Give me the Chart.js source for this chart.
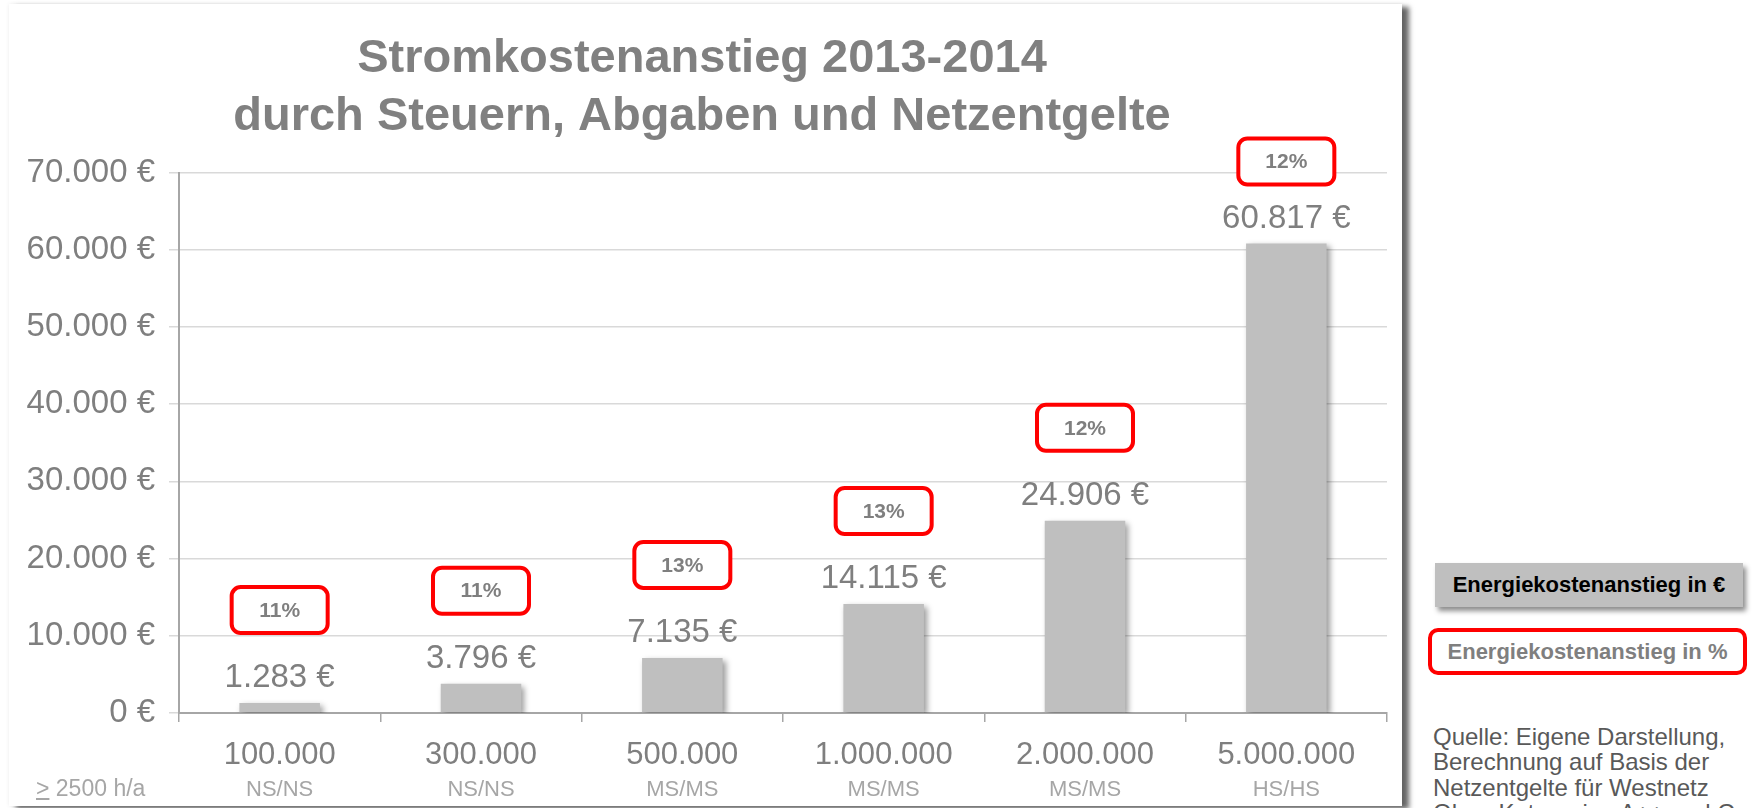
<!DOCTYPE html>
<html lang="de">
<head>
<meta charset="utf-8" />
<script src="https://cdn.jsdelivr.net/npm/chart.js@4.4.1/dist/chart.umd.min.js"></script>
<style>
  body { margin: 0; background: #fff; font-family: "Liberation Sans", Arial, sans-serif; overflow: hidden; }
  #card { position: absolute; left: 9px; top: 4px; width: 1393px; height: 802px; background: #fff;
          box-shadow: 7px 3px 5px rgba(0,0,0,0.6), 0 0 4px rgba(0,0,0,0.08); }
  #hours { position: absolute; left: 27px; top: 771px; font-size: 23px; color: #a6a6a6; }
  .leg { position: absolute; box-sizing: border-box; text-align: center; font-weight: bold; font-size: 22px; }
  #legEuro { left: 1435px; top: 563px; width: 308px; height: 44px; line-height: 44px; background: #bfbfbf; color: #000;
             box-shadow: 3px 4px 5px rgba(0,0,0,0.45); }
  #legPct { left: 1428px; top: 628px; width: 319px; height: 47px; line-height: 39px; border: 4px solid #ff0000;
            border-radius: 10px; color: #7f7f7f; background: #fff; }
  #quelle { position: absolute; left: 1433px; top: 724px; font-size: 24px; line-height: 25.3px; color: #595959; white-space: nowrap; }
</style>
<title>Stromkostenanstieg 2013-2014</title>
</head>
<body>
<div id="card">
  <canvas id="chart" width="1393" height="802"></canvas>
  <div id="hours"><span style="text-decoration: underline">&gt;</span> 2500 h/a</div>
</div>
<div class="leg" id="legEuro">Energiekostenanstieg in €</div>
<div class="leg" id="legPct">Energiekostenanstieg in %</div>
<div id="quelle">Quelle: Eigene Darstellung,<br>Berechnung auf Basis der<br>Netzentgelte für Westnetz<br>Ohne Kategorien A++ und C</div>
<script>
// Jahresverbrauch in kWh und Spannungsebene
const verbrauch = ["100.000", "300.000", "500.000", "1.000.000", "2.000.000", "5.000.000"];
const ebene = ["NS/NS", "NS/NS", "MS/MS", "MS/MS", "MS/MS", "HS/HS"];
// Anstieg in Euro und in Prozent
const anstiegEuro = [1283, 3796, 7135, 14115, 24906, 60817];
const anstiegProzent = [11, 11, 13, 13, 12, 12];

const schrift = "'Liberation Sans', Arial, sans-serif";

function punkt(n) {
    return String(n).replace(/\B(?=(\d{3})+(?!\d))/g, ".");
}

// Schatten unter den Balken
const schatten = {
    id: "schatten",
    beforeDatasetsDraw(chart) {
        const ctx = chart.ctx;
        ctx.save();
        ctx.shadowColor = "rgba(0,0,0,0.4)";
        ctx.shadowBlur = 6;
        ctx.shadowOffsetX = 3;
        ctx.shadowOffsetY = 3;
    },
    afterDatasetsDraw(chart) {
        chart.ctx.restore();
    }
};

// Werte über den Balken, Prozent im roten Kasten, zweite Zeile der Achse
const beschriftung = {
    id: "beschriftung",
    afterDraw(chart) {
        const ctx = chart.ctx;
        const area = chart.chartArea;
        const xs = chart.scales.x;
        ctx.save();
        chart.getDatasetMeta(0).data.forEach((bar, i) => {
            const yWert = bar.y - 25;
            ctx.fillStyle = "#7f7f7f";
            ctx.font = "33px " + schrift;
            ctx.textAlign = "center";
            ctx.textBaseline = "middle";
            ctx.fillText(punkt(anstiegEuro[i]) + " €", bar.x, yWert);

            let yBox = Math.max(yWert - 68, area.top - 11);
            const w = 96, h = 46;
            ctx.beginPath();
            ctx.roundRect(bar.x - w / 2, yBox - h / 2, w, h, 9);
            ctx.fillStyle = "#fff";
            ctx.fill();
            ctx.lineWidth = 4;
            ctx.strokeStyle = "#ff0000";
            ctx.stroke();
            ctx.fillStyle = "#7f7f7f";
            ctx.font = "bold 21px " + schrift;
            ctx.fillText(anstiegProzent[i] + "%", bar.x, yBox + 1);
        });
        ctx.fillStyle = "#a6a6a6";
        ctx.font = "22px " + schrift;
        ctx.textAlign = "center";
        ctx.textBaseline = "middle";
        ebene.forEach((e, i) => {
            ctx.fillText(e, xs.getPixelForValue(i), area.bottom + 77);
        });
        ctx.restore();
    }
};

new Chart(document.getElementById("chart").getContext("2d"), {
    type: "bar",
    data: {
        labels: verbrauch,
        datasets: [{
            label: "Energiekostenanstieg in €",
            data: anstiegEuro,
            backgroundColor: "#bfbfbf",
            barPercentage: 0.4,
            categoryPercentage: 1.0
        }]
    },
    options: {
        responsive: false,
        animation: false,
        layout: { padding: { left: 8, right: 15, top: 0, bottom: 0 } },
        plugins: {
            legend: { display: false },
            tooltip: { enabled: false },
            title: {
                display: true,
                text: ["Stromkostenanstieg 2013-2014", "durch Steuern, Abgaben und Netzentgelte"],
                color: "#808080",
                font: { family: schrift, size: 47, weight: "bold", lineHeight: 1.24 },
                padding: { top: 26, bottom: 26 }
            }
        },
        scales: {
            x: {
                grid: { display: true, drawOnChartArea: false, drawTicks: true, tickLength: 9, color: "#a6a6a6", lineWidth: 1.5 },
                border: { display: true, color: "#a6a6a6", width: 2 },
                ticks: { color: "#7f7f7f", font: { family: schrift, size: 31 }, padding: 15, maxRotation: 0 },
                afterFit(scale) { scale.height = 93; }
            },
            y: {
                min: 0,
                max: 70000,
                grid: { color: "#d9d9d9", lineWidth: 1.5, tickLength: 10 },
                border: { display: true, color: "#a6a6a6", width: 2 },
                ticks: {
                    stepSize: 10000,
                    color: "#7f7f7f",
                    padding: 14,
                    font: { family: schrift, size: 33 },
                    callback: v => punkt(v) + " €"
                },
                afterFit(scale) { scale.width = 162; }
            }
        }
    },
    plugins: [schatten, beschriftung]
});
</script>
</body>
</html>
